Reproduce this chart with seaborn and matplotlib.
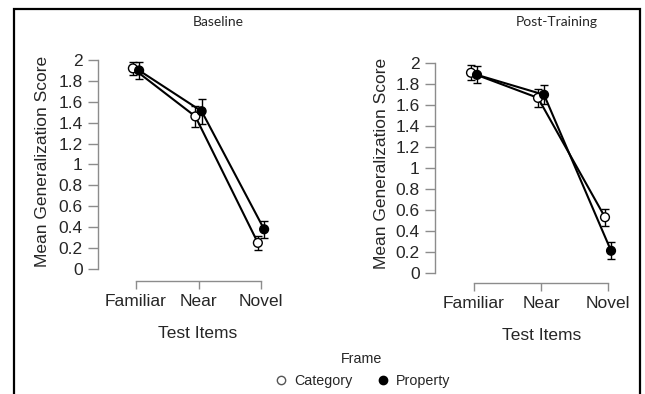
import pandas as pd
import matplotlib.pyplot as plt
import matplotlib.patches as patches
from matplotlib.lines import Line2D
import seaborn as sns

# Values
items = ["Familiar", "Near", "Novel"]
frames = ["Category", "Property"]

baseline_category = [1.92, 1.46, 0.25]
baseline_category_err = [0.06, 0.10, 0.07]
baseline_property = [1.90, 1.51, 0.38]
baseline_property_err = [0.08, 0.12, 0.08]

post_category = [1.91, 1.67, 0.53]
post_category_err = [0.07, 0.085, 0.08]
post_property = [1.89, 1.70, 0.21]
post_property_err = [0.08, 0.09, 0.08]

yticks = [0, 0.2, 0.4, 0.6, 0.8, 1, 1.2, 1.4, 1.6, 1.8, 2]

sns.set_style("white")
plt.rcParams['font.family'] = ['Liberation Sans', 'DejaVu Sans']

W, H = 645, 394
fig = plt.figure(figsize=(W / 100, H / 100), dpi=100)

# outer frame around the whole figure
fig.patches.append(patches.Rectangle((14 / W, -0.05), (640 - 14) / W, 1 - 9 / H + 0.05,
                                     transform=fig.transFigure, fill=False,
                                     edgecolor="black", linewidth=1.6))


def make_df(cat, cat_err, prop, prop_err, dodge):
    rows = []
    for i, item in enumerate(items):
        rows.append({"item": item, "pos": i - dodge, "score": cat[i], "err": cat_err[i], "frame": "Category"})
        rows.append({"item": item, "pos": i + dodge, "score": prop[i], "err": prop_err[i], "frame": "Property"})
    return pd.DataFrame(rows)


def draw_panel(ax, df, title, title_x):
    sns.lineplot(data=df, x="pos", y="score", hue="frame", palette=["black", "black"],
                 linewidth=1.5, legend=False, ax=ax, zorder=2)
    for fr in frames:
        sub = df[df["frame"] == fr]
        ax.errorbar(sub["pos"], sub["score"], yerr=sub["err"], fmt="none",
                    ecolor="black", elinewidth=1.0, capsize=3, capthick=1.0, zorder=3)
    sns.scatterplot(data=df, x="pos", y="score", hue="frame",
                    palette={"Category": "white", "Property": "black"},
                    edgecolor="black", linewidth=1.0, s=40, legend=False, ax=ax, zorder=4)

    ax.set_yticks(yticks)
    ax.set_yticklabels([f"{v:g}" for v in yticks])
    ax.set_xticks(range(len(items)))
    ax.set_xticklabels(items)
    for side in ["top", "right"]:
        ax.spines[side].set_visible(False)
    ax.spines["left"].set_bounds(0, 2)
    ax.spines["bottom"].set_bounds(0, 2)
    for side in ["left", "bottom"]:
        ax.spines[side].set_color("#8c8c8c")
        ax.spines[side].set_linewidth(1.0)
    ax.tick_params(axis="y", direction="out", length=7, width=1.0, color="#8c8c8c",
                   labelsize=12.5, pad=4, left=True)
    ax.tick_params(axis="x", direction="out", length=6, width=1.0, color="#8c8c8c",
                   labelsize=12.5, pad=3, bottom=True)
    ax.set_ylabel("Mean Generalization Score", fontsize=12.5)
    ax.set_xlabel("Test Items", fontsize=12.5)
    ax.set_facecolor("none")
    fig.text(title_x / W, 1 - 22 / H, title, ha="center", va="center",
             fontsize=10, family=["Lato", "DejaVu Sans"])


# left panel: Baseline
ax1 = fig.add_axes([98 / W, 1 - 281 / H, (272 - 98) / W, (281 - 55) / H])
draw_panel(ax1, make_df(baseline_category, baseline_category_err,
                        baseline_property, baseline_property_err, 0.05),
           "Baseline", 218)
ax1.set_xlim(-0.608, 2.176)
ax1.set_ylim(-0.115, 2.048)
ax1.yaxis.set_label_coords(-0.278, 0.53)
ax1.xaxis.set_label_coords(0.575, -0.20)

# right panel: Post-Training
ax2 = fig.add_axes([435 / W, 1 - 283 / H, (618 - 435) / W, (283 - 58) / H])
draw_panel(ax2, make_df(post_category, post_category_err,
                        post_property, post_property_err, 0.045),
           "Post-Training", 557)
ax2.set_xlim(-0.582, 2.149)
ax2.set_ylim(-0.098, 2.051)
ax2.yaxis.set_label_coords(-0.25, 0.53)
ax2.xaxis.set_label_coords(0.58, -0.20)

# shared legend
handles = [
    Line2D([], [], marker="o", linestyle="none", markerfacecolor="white",
           markeredgecolor="#555555", markersize=6),
    Line2D([], [], marker="o", linestyle="none", markerfacecolor="black",
           markeredgecolor="black", markersize=6),
]
leg = fig.legend(handles, frames, title="Frame", loc="center",
                 bbox_to_anchor=(362 / W, 1 - 370 / H), ncol=2, frameon=False,
                 fontsize=10.3, title_fontsize=10.3, handletextpad=0.4,
                 columnspacing=1.6, handlelength=1.0)

fig.savefig("out.png", dpi=100)
